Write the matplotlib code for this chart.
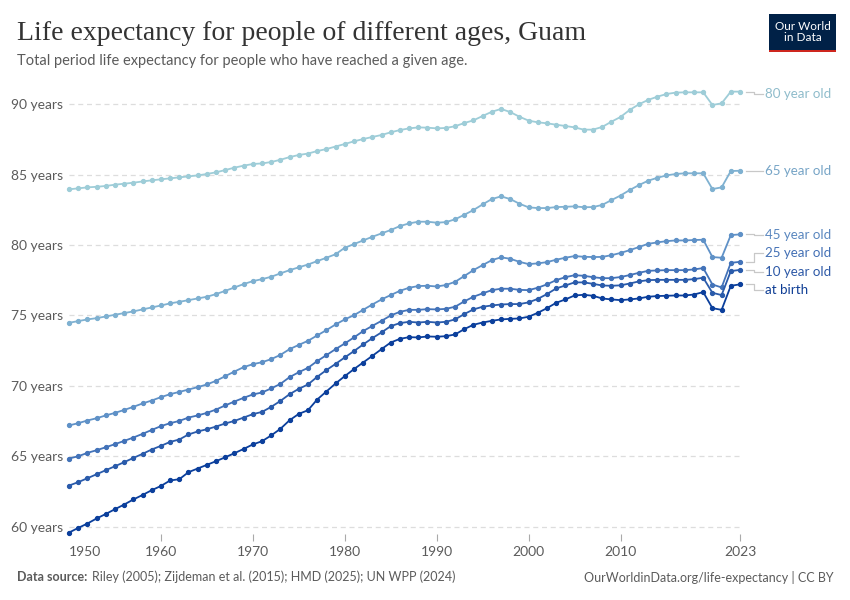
import matplotlib
matplotlib.use("Agg")
import matplotlib.pyplot as plt
from matplotlib.patches import Rectangle

# Data
years = list(range(1950, 2024))

age80 = [83.96, 84.03, 84.10, 84.14, 84.20, 84.29, 84.36, 84.43, 84.52, 84.60,
         84.67, 84.74, 84.81, 84.88, 84.95, 85.05, 85.17, 85.33, 85.50, 85.64,
         85.76, 85.80, 85.90, 86.06, 86.25, 86.40, 86.50, 86.68, 86.82, 87.00,
         87.18, 87.37, 87.53, 87.68, 87.82, 88.01, 88.17, 88.29, 88.36, 88.34,
         88.29, 88.32, 88.44, 88.67, 88.86, 89.17, 89.47, 89.67, 89.45, 89.12,
         88.84, 88.72, 88.65, 88.55, 88.46, 88.36, 88.20, 88.20, 88.39, 88.76,
         89.10, 89.60, 90.00, 90.31, 90.54, 90.73, 90.83, 90.85, 90.85, 90.85,
         89.95, 90.07, 90.90, 90.90]

age65 = [74.48, 74.60, 74.72, 74.81, 74.93, 75.05, 75.17, 75.29, 75.43, 75.57,
         75.71, 75.86, 75.97, 76.09, 76.21, 76.33, 76.52, 76.75, 76.99, 77.23,
         77.44, 77.58, 77.75, 77.99, 78.22, 78.42, 78.62, 78.86, 79.10, 79.35,
         79.81, 80.07, 80.33, 80.59, 80.83, 81.07, 81.35, 81.54, 81.66, 81.66,
         81.59, 81.63, 81.83, 82.15, 82.49, 82.89, 83.27, 83.46, 83.27, 82.94,
         82.68, 82.63, 82.63, 82.70, 82.72, 82.75, 82.69, 82.70, 82.85, 83.19,
         83.52, 83.91, 84.26, 84.57, 84.78, 84.95, 85.05, 85.10, 85.10, 85.10,
         83.98, 84.10, 85.26, 85.28]

age45 = [67.19, 67.35, 67.54, 67.70, 67.90, 68.08, 68.29, 68.51, 68.75, 68.96,
         69.20, 69.41, 69.57, 69.74, 69.91, 70.10, 70.36, 70.69, 71.02, 71.33,
         71.54, 71.68, 71.90, 72.20, 72.61, 72.91, 73.20, 73.58, 73.96, 74.36,
         74.72, 75.02, 75.40, 75.78, 76.14, 76.45, 76.75, 76.97, 77.09, 77.11,
         77.06, 77.16, 77.39, 77.80, 78.22, 78.58, 78.93, 79.13, 79.03, 78.81,
         78.65, 78.70, 78.79, 78.96, 79.10, 79.22, 79.17, 79.15, 79.16, 79.28,
         79.44, 79.64, 79.86, 80.09, 80.19, 80.28, 80.33, 80.33, 80.36, 80.38,
         79.15, 79.10, 80.71, 80.76]

age25 = [64.84, 65.00, 65.24, 65.43, 65.64, 65.86, 66.09, 66.33, 66.59, 66.87,
         67.14, 67.35, 67.51, 67.75, 67.90, 68.08, 68.32, 68.61, 68.89, 69.15,
         69.39, 69.53, 69.82, 70.14, 70.62, 70.97, 71.28, 71.76, 72.18, 72.61,
         73.01, 73.44, 73.89, 74.26, 74.62, 75.00, 75.26, 75.40, 75.40, 75.45,
         75.43, 75.47, 75.62, 76.00, 76.33, 76.57, 76.80, 76.90, 76.90, 76.82,
         76.80, 76.97, 77.21, 77.51, 77.72, 77.86, 77.82, 77.72, 77.65, 77.65,
         77.73, 77.87, 78.03, 78.17, 78.20, 78.22, 78.22, 78.22, 78.27, 78.37,
         77.20, 76.99, 78.74, 78.81]

age10 = [62.92, 63.16, 63.44, 63.72, 64.01, 64.29, 64.58, 64.88, 65.17, 65.48,
         65.74, 66.02, 66.19, 66.55, 66.76, 66.92, 67.11, 67.33, 67.51, 67.75,
         67.99, 68.15, 68.51, 68.93, 69.41, 69.79, 70.10, 70.64, 71.12, 71.56,
         72.02, 72.47, 72.94, 73.39, 73.80, 74.24, 74.46, 74.55, 74.50, 74.55,
         74.50, 74.55, 74.72, 75.10, 75.43, 75.62, 75.71, 75.78, 75.81, 75.81,
         75.93, 76.18, 76.52, 76.92, 77.13, 77.35, 77.35, 77.25, 77.13, 77.11,
         77.14, 77.27, 77.42, 77.51, 77.53, 77.53, 77.53, 77.53, 77.58, 77.68,
         76.61, 76.45, 78.15, 78.24]

at_birth = [59.58, 59.91, 60.22, 60.58, 60.90, 61.24, 61.57, 61.93, 62.25, 62.59,
            62.89, 63.28, 63.37, 63.87, 64.13, 64.39, 64.65, 64.93, 65.22, 65.52,
            65.84, 66.07, 66.48, 66.95, 67.56, 68.01, 68.27, 69.03, 69.60, 70.17,
            70.69, 71.19, 71.66, 72.13, 72.61, 73.08, 73.34, 73.46, 73.44, 73.51,
            73.49, 73.53, 73.65, 74.03, 74.34, 74.50, 74.62, 74.72, 74.76, 74.79,
            74.91, 75.19, 75.52, 75.90, 76.14, 76.42, 76.47, 76.40, 76.21, 76.14,
            76.09, 76.14, 76.21, 76.33, 76.38, 76.40, 76.42, 76.42, 76.49, 76.66,
            75.52, 75.40, 77.11, 77.21]

series_names = ["80 year old", "65 year old", "45 year old",
                "25 year old", "10 year old", "at birth"]
series_values = [age80, age65, age45, age25, age10, at_birth]
series_colors = ["#9ecdd8", "#7fb1d1", "#5f91c7", "#4373b9", "#2a5bab", "#0b3f9c"]
label_colors = ["#8fbccb", "#76a4c6", "#5a87bf", "#4370b5", "#2c58a6", "#0e3d94"]
label_y = [90.73, 85.28, 80.73, 79.45, 78.10, 76.82]

yticks = [60, 65, 70, 75, 80, 85, 90]
xticks = [1950, 1960, 1970, 1980, 1990, 2000, 2010, 2023]

plt.rcParams["font.family"] = ["Lato", "DejaVu Sans"]

fig = plt.figure(figsize=(8.5, 6), dpi=100)
ax = fig.add_axes([69 / 850, 1 - 533.7 / 600, 671 / 850, (533.7 - 86) / 600])
ax.set_xlim(1950, 2023)
ax.set_ylim(59.5, 91.3)

for name, vals, col in zip(series_names, series_values, series_colors):
    ax.plot(years, vals, color=col, lw=1.3, marker="o", ms=2.8,
            clip_on=False, zorder=3)

# Gridlines
for t in yticks:
    ax.axhline(t, color="#dddddd", lw=0.9, ls=(0, (4, 3)), zorder=1)

for s in ax.spines.values():
    s.set_visible(False)

ax.set_yticks(yticks)
ax.set_yticklabels([f"{t} years" for t in yticks])
ax.tick_params(axis="y", length=0, pad=4, labelsize=10, labelcolor="#5b5b5b")
ax.set_xticks(xticks)
ax.set_xticklabels([str(t) for t in xticks])
ax.tick_params(axis="x", length=5, width=0.8, color="#aaaaaa", pad=4,
               labelsize=10, labelcolor="#5b5b5b", direction="out")
ax.get_xticklines()[0].set_visible(False)
ax.get_xticklabels()[0].set_horizontalalignment("left")

# End labels with connector lines
for vals, ly, name, tcol in zip(series_values, label_y, series_names, label_colors):
    end = vals[-1]
    xs = [2023.6, 2024.5, 2024.5, 2025.5]
    ys = [end, end, ly, ly]
    ax.plot(xs, ys, color="#c8c8c8", lw=0.9, clip_on=False, zorder=2)
    ax.text(2025.7, ly, name, color=tcol, fontsize=9.6, va="center",
            ha="left", clip_on=False)

# Title, subtitle
fig.text(17 / 850, 1 - 33 / 600, "Life expectancy for people of different ages, Guam",
         fontsize=20, family=["Liberation Serif", "DejaVu Serif"],
         color="#333333", va="center", ha="left")
fig.text(17 / 850, 1 - 61 / 600,
         "Total period life expectancy for people who have reached a given age.",
         fontsize=10.5, color="#5b5b5b", va="center", ha="left")

# Logo
logo = Rectangle((769 / 850, 1 - 52 / 600), 67 / 850, 38 / 600,
                 transform=fig.transFigure, facecolor="#002147", edgecolor="none")
fig.patches.append(logo)
stripe = Rectangle((769 / 850, 1 - 52 / 600), 67 / 850, 2.5 / 600,
                   transform=fig.transFigure, facecolor="#ce261e", edgecolor="none")
fig.patches.append(stripe)
fig.text(802.5 / 850, 1 - 32 / 600, "Our World\nin Data", color="white",
         fontsize=8.5, ha="center", va="center", linespacing=1.05)

# Footer
fig.text(17 / 850, 1 - 577 / 600, "Data source:", fontsize=9,
         fontweight="bold", color="#5b5b5b", va="center", ha="left")
fig.text(92 / 850, 1 - 577 / 600,
         "Riley (2005); Zijdeman et al. (2015); HMD (2025); UN WPP (2024)",
         fontsize=9, color="#5b5b5b", va="center", ha="left")
fig.text(834 / 850, 1 - 577 / 600,
         "OurWorldinData.org/life-expectancy | CC BY",
         fontsize=9, color="#5b5b5b", va="center", ha="right")

fig.savefig("out.png", dpi=100)
